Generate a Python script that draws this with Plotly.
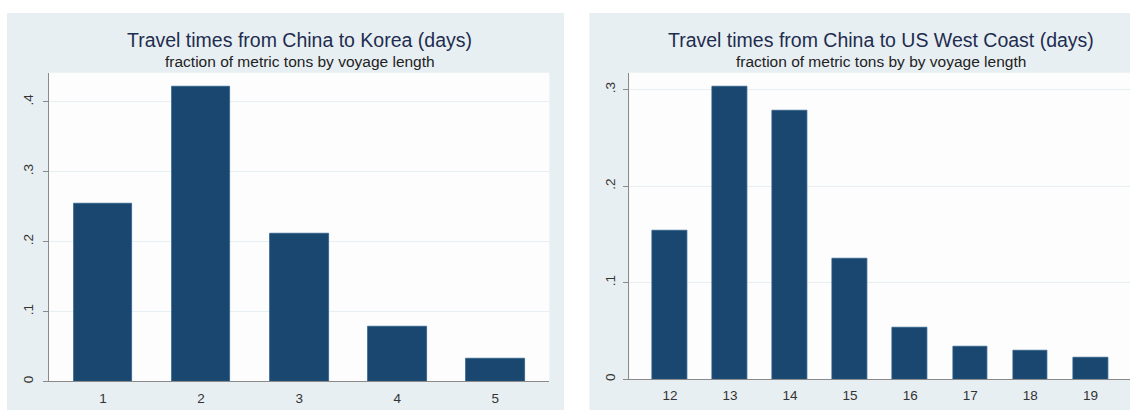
import plotly.graph_objects as go

W, H = 1130, 412

korea_days = [1, 2, 3, 4, 5]
korea_frac = [0.255, 0.421, 0.211, 0.078, 0.032]

usw_days = [12, 13, 14, 15, 16, 17, 18, 19]
usw_frac = [0.154, 0.303, 0.278, 0.125, 0.053, 0.034, 0.030, 0.022]

korea_yticks = [0, 0.1, 0.2, 0.3, 0.4]
korea_ylabels = ["0", ".1", ".2", ".3", ".4"]
usw_yticks = [0, 0.1, 0.2, 0.3]
usw_ylabels = ["0", ".1", ".2", ".3"]

titles = ["Travel times from China to Korea (days)",
          "Travel times from China to US West Coast (days)"]
subtitles = ["fraction of metric tons by voyage length",
             "fraction of metric tons by by voyage length"]

BAR = "#1a476f"
BG = "#e8eff2"
GRID = "#e6eff1"
TITLE_C = "#1e2d4f"


def px(x):
    return x / W


def py(y):
    return 1 - y / H


fig = go.Figure()
fig.add_trace(go.Bar(x=korea_days, y=korea_frac, width=0.6,
                     marker=dict(color=BAR, line=dict(color="#2f5f8a", width=0.8)),
                     xaxis="x", yaxis="y", showlegend=False))
fig.add_trace(go.Bar(x=usw_days, y=usw_frac, width=0.58,
                     marker=dict(color=BAR, line=dict(color="#2f5f8a", width=0.8)),
                     xaxis="x2", yaxis="y2", showlegend=False))

# panel geometry (pixels)
L = dict(bg=(7, 13, 564, 412), plot=(49, 73, 549.3, 383.3))
R = dict(bg=(589.3, 13, 1130, 412), plot=(629.3, 73, 1130, 381))

shapes = []
for p in (L, R):
    x0, y0, x1, y1 = p["bg"]
    shapes.append(dict(type="rect", xref="paper", yref="paper", x0=px(x0), x1=px(x1),
                       y0=py(y1), y1=py(y0), fillcolor=BG, line=dict(width=0), layer="below"))
    x0, y0, x1, y1 = p["plot"]
    shapes.append(dict(type="rect", xref="paper", yref="paper", x0=px(x0), x1=px(x1),
                       y0=py(y1), y1=py(y0), fillcolor="#fdfdfd", line=dict(width=0), layer="below"))

axis_common = dict(showline=True, linecolor="#8a8a8a", linewidth=1.2, zeroline=False,
                   tickfont=dict(family="Liberation Sans, Arial", size=13.5, color="#333333"))

fig.update_layout(
    width=W, height=H,
    margin=dict(l=0, r=0, t=0, b=0),
    paper_bgcolor="white",
    plot_bgcolor="rgba(0,0,0,0)",
    bargap=0,
    shapes=shapes,
    xaxis=dict(domain=[px(49), px(549.3)], range=[0.45, 5.55], anchor="y",
               tickvals=korea_days, ticktext=[str(d) for d in korea_days],
               showgrid=False, ticks="", ticklen=0, ticklabelstandoff=4, **axis_common),
    yaxis=dict(domain=[py(383.3), py(73)], range=[0, 0.4417], anchor="x",
               tickvals=korea_yticks, ticktext=korea_ylabels, tickangle=-90,
               showgrid=True, gridcolor=GRID, gridwidth=1, ticklabelstandoff=5,
               ticks="outside", ticklen=5, tickcolor="#8a8a8a", **axis_common),
    xaxis2=dict(domain=[px(629.3), px(1130)], range=[11.324, 19.659], anchor="y2",
                tickvals=usw_days, ticktext=[str(d) for d in usw_days],
                showgrid=False, ticks="", ticklen=0, ticklabelstandoff=4, **axis_common),
    yaxis2=dict(domain=[py(381), py(73)], range=[0, 0.3175], anchor="x2",
                tickvals=usw_yticks, ticktext=usw_ylabels, tickangle=-90,
                showgrid=True, gridcolor=GRID, gridwidth=1, ticklabelstandoff=3,
                ticks="outside", ticklen=5, tickcolor="#8a8a8a", **axis_common),
)

annotations = []
for cx, t, s in [(299.5, titles[0], subtitles[0]), (880.5, titles[1], subtitles[1])]:
    annotations.append(dict(text=t, x=px(cx), y=py(40), xref="paper", yref="paper",
                            xanchor="center", yanchor="middle", showarrow=False,
                            font=dict(family="Liberation Sans, Arial", size=19.5, color=TITLE_C)))
    annotations.append(dict(text=s, x=px(cx), y=py(62), xref="paper", yref="paper",
                            xanchor="center", yanchor="middle", showarrow=False,
                            font=dict(family="Liberation Sans, Arial", size=15.5, color="#222222")))
fig.update_layout(annotations=annotations)

fig.write_html("out.html")
